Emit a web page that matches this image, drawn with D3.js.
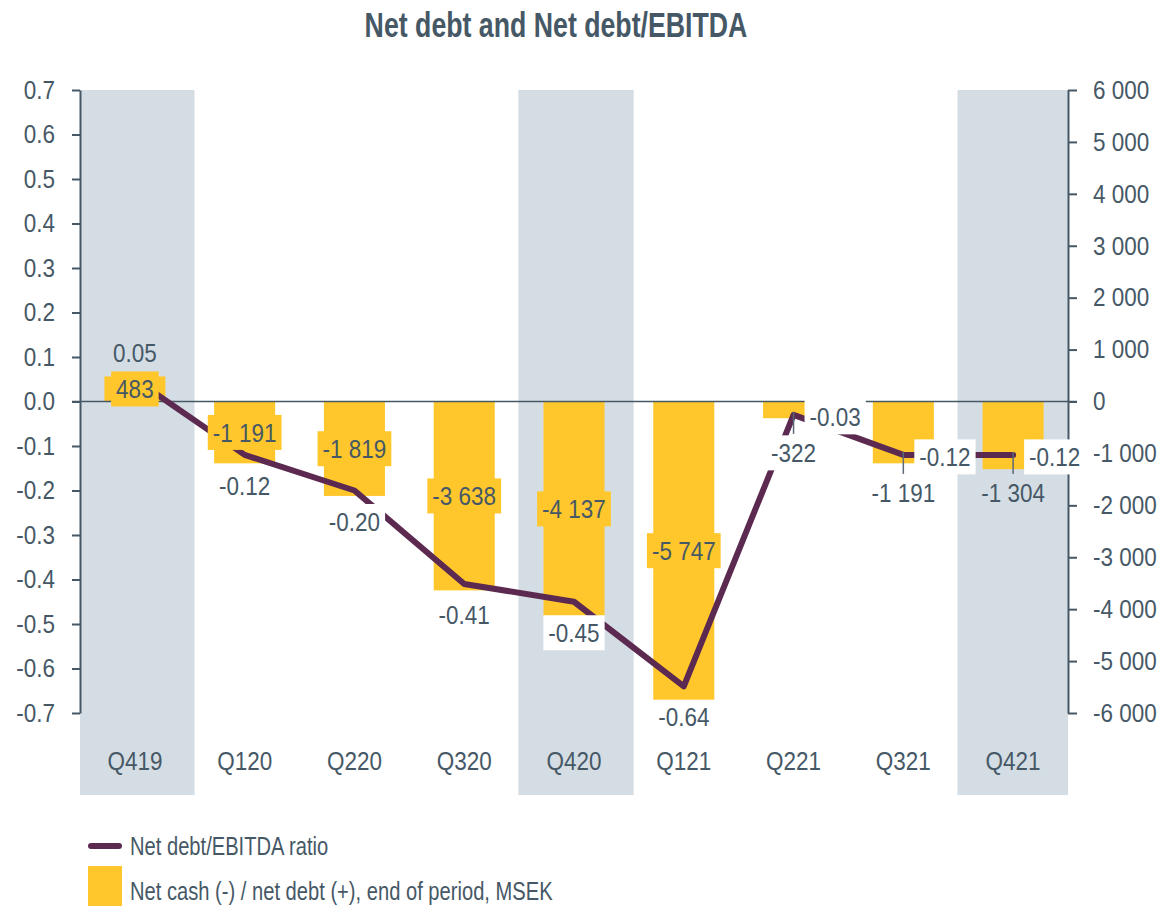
<!DOCTYPE html>
<html>
<head>
<meta charset="utf-8">
<script src="https://cdn.jsdelivr.net/npm/d3@7"></script>
<style>
  body { margin: 0; background: #fff; }
  svg text { font-family: "Liberation Sans", Arial, sans-serif; fill: #465866; }
</style>
</head>
<body>
<div id="chart"></div>
<script>
// ---- data ----
var quarters = ["Q419", "Q120", "Q220", "Q320", "Q420", "Q121", "Q221", "Q321", "Q421"];
var netDebt = [483, -1191, -1819, -3638, -4137, -5747, -322, -1191, -1304];
var ratio = [0.05, -0.12, -0.20, -0.41, -0.45, -0.64, -0.03, -0.12, -0.12];
var highlighted = ["Q419", "Q420", "Q421"];
var leftTicks = [-0.7, -0.6, -0.5, -0.4, -0.3, -0.2, -0.1, 0, 0.1, 0.2, 0.3, 0.4, 0.5, 0.6, 0.7];
var rightTicks = [-6000, -5000, -4000, -3000, -2000, -1000, 0, 1000, 2000, 3000, 4000, 5000, 6000];
// where the labels sit
var ratioLabelPos = ["top", "bottom", "bottom", "bottom", "bottom", "bottom", "right", "right", "right"];
var barLabelPos = ["inside", "inside", "inside", "inside", "inside", "inside", "below", "below", "below"];

var textCol = "#465866", barCol = "#FFC72C", lineCol = "#5c2a50", bandCol = "#D5DDE4";

var width = 1163, height = 910;
var plot = {left: 80, right: 1068, top: 90, bottom: 713};
var NARROW = 0.865; // no condensed font installed, squeeze the regular one

var loc = d3.formatLocale({decimal: ".", thousands: " ", grouping: [3], currency: ["", ""], minus: "-"});
var fmtRatio = loc.format(".2f"), fmtTick = loc.format(".1f"), fmtNum = loc.format(",d");

// squeeze a text horizontally around its own anchor point
function squeeze(sel, k) {
  sel.attr("transform", function() {
    var tx = +this.getAttribute("x") || 0, ty = +this.getAttribute("y") || 0;
    return "translate(" + tx + "," + ty + ") scale(" + k + ",1) translate(" + (-tx) + "," + (-ty) + ")";
  });
}

var svg = d3.select("#chart").append("svg")
  .attr("width", width).attr("height", height);

var x = d3.scaleBand().domain(quarters).range([plot.left, plot.right]);
var yL = d3.scaleLinear().domain([-0.7, 0.7]).range([plot.bottom, plot.top]);
var yR = d3.scaleLinear().domain([-6000, 6000]).range([plot.bottom, plot.top]);
var cx = function(q) { return x(q) + x.bandwidth() / 2; };

// title
svg.append("text")
  .attr("x", 556).attr("y", 37)
  .attr("text-anchor", "middle")
  .style("font-size", "36px").style("font-weight", "bold")
  .text("Net debt and Net debt/EBITDA")
  .call(squeeze, 0.742);

// highlighted quarters
var bandW = x.bandwidth() * 1.05;
svg.selectAll("rect.band")
  .data(highlighted)
  .enter().append("rect")
  .attr("class", "band")
  .attr("x", function(d) { return Math.max(plot.left, cx(d) - bandW / 2 + 2); })
  .attr("y", plot.top)
  .attr("width", function(d) {
    var x0 = Math.max(plot.left, cx(d) - bandW / 2 + 2), x1 = Math.min(plot.right, cx(d) + bandW / 2 + 2);
    return x1 - x0;
  })
  .attr("height", 795 - plot.top)
  .attr("fill", bandCol);

// bars
var barW = x.bandwidth() * 0.556;
svg.selectAll("rect.bar")
  .data(quarters)
  .enter().append("rect")
  .attr("class", "bar")
  .attr("x", function(d) { return cx(d) - barW / 2; })
  .attr("y", function(d, i) { return yR(Math.max(0, netDebt[i])); })
  .attr("width", barW)
  .attr("height", function(d, i) { return Math.abs(yR(netDebt[i]) - yR(0)); })
  .attr("fill", barCol);

// zero line
svg.append("line")
  .attr("x1", plot.left - 8).attr("x2", plot.right + 9)
  .attr("y1", yR(0)).attr("y2", yR(0))
  .attr("stroke", textCol).attr("stroke-width", 1.5);

// axes
var axL = svg.append("g")
  .attr("transform", "translate(" + plot.left + ",0)")
  .call(d3.axisLeft(yL).tickValues(leftTicks).tickFormat(fmtTick).tickSize(8).tickPadding(17).tickSizeOuter(0));
var axR = svg.append("g")
  .attr("transform", "translate(" + plot.right + ",0)")
  .call(d3.axisRight(yR).tickValues(rightTicks).tickFormat(fmtNum).tickSize(9).tickPadding(16).tickSizeOuter(0));
[axL, axR].forEach(function(g) {
  g.select(".domain").attr("stroke", textCol).attr("stroke-width", 2);
  g.selectAll(".tick line").attr("stroke", textCol).attr("stroke-width", 2);
  g.selectAll(".tick text").style("font-size", "26px").attr("fill", textCol).call(squeeze, NARROW);
});

// category labels
svg.selectAll("text.cat")
  .data(quarters)
  .enter().append("text")
  .attr("class", "cat")
  .attr("x", cx).attr("y", 761)
  .attr("dy", "0.35em")
  .attr("text-anchor", "middle")
  .style("font-size", "26px")
  .text(function(d) { return d; })
  .call(squeeze, NARROW);

// ratio line
var line = d3.line()
  .x(function(d, i) { return cx(quarters[i]); })
  .y(function(d) { return yL(d); });
svg.append("path")
  .datum(ratio)
  .attr("d", line)
  .attr("fill", "none")
  .attr("stroke", lineCol)
  .attr("stroke-width", 6)
  .attr("stroke-linejoin", "round")
  .attr("stroke-linecap", "round");

// leader lines for labels pushed below
svg.selectAll("line.leader")
  .data(quarters.filter(function(d, i) { return barLabelPos[i] == "below"; }))
  .enter().append("line")
  .attr("class", "leader")
  .attr("x1", cx).attr("x2", cx)
  .attr("y1", function(d) { return yL(ratio[quarters.indexOf(d)]) - 3; })
  .attr("y2", function(d) { return yL(ratio[quarters.indexOf(d)]) + 19; })
  .attr("stroke", "#5a6a78").attr("stroke-width", 1.5);

// label with a box behind it
function boxedLabel(xp, yp, anchor, txt, fill) {
  var g = svg.append("g");
  var rect = g.append("rect").attr("fill", fill || "none");
  var t = g.append("text")
    .attr("x", xp).attr("y", yp).attr("dy", "0.35em")
    .attr("text-anchor", anchor)
    .style("font-size", "26px")
    .text(txt);
  var b = t.node().getBBox();
  t.call(squeeze, NARROW);
  var bx = xp + (b.x - xp) * NARROW, bw = b.width * NARROW;
  rect.attr("x", bx - 5).attr("y", yp - 17.5).attr("width", bw + 10).attr("height", 35);
}

// ratio labels
ratio.forEach(function(v, i) {
  var px = cx(quarters[i]), py = yL(v), pos = ratioLabelPos[i];
  if (pos == "top") boxedLabel(px, py - 26, "middle", fmtRatio(v), null);
  else if (pos == "bottom") boxedLabel(px, py + 31, "middle", fmtRatio(v), "#fff");
  else boxedLabel(px + 16, py + 2, "start", fmtRatio(v), "#fff");
});

// bar labels
netDebt.forEach(function(v, i) {
  var px = cx(quarters[i]);
  if (barLabelPos[i] == "inside") {
    var my = (yR(v) + yR(0)) / 2;
    boxedLabel(px, my, "middle", fmtNum(v), barCol);
  } else {
    var onBand = highlighted.indexOf(quarters[i]) >= 0;
    boxedLabel(px, yL(ratio[i]) + 38, "middle", fmtNum(v), onBand ? null : "#fff");
  }
});

// legend
var leg = svg.append("g");
leg.append("line")
  .attr("x1", 91).attr("x2", 119).attr("y1", 846).attr("y2", 846)
  .attr("stroke", lineCol).attr("stroke-width", 6).attr("stroke-linecap", "round");
leg.append("text")
  .attr("x", 130).attr("y", 846).attr("dy", "0.35em")
  .style("font-size", "26px")
  .text("Net debt/EBITDA ratio")
  .call(squeeze, 0.775);
leg.append("rect")
  .attr("x", 88).attr("y", 866).attr("width", 34).attr("height", 40)
  .attr("fill", barCol);
leg.append("text")
  .attr("x", 130).attr("y", 891).attr("dy", "0.35em")
  .style("font-size", "26px")
  .text("Net cash (-) / net debt (+), end of period, MSEK")
  .call(squeeze, 0.775);
</script>
</body>
</html>
